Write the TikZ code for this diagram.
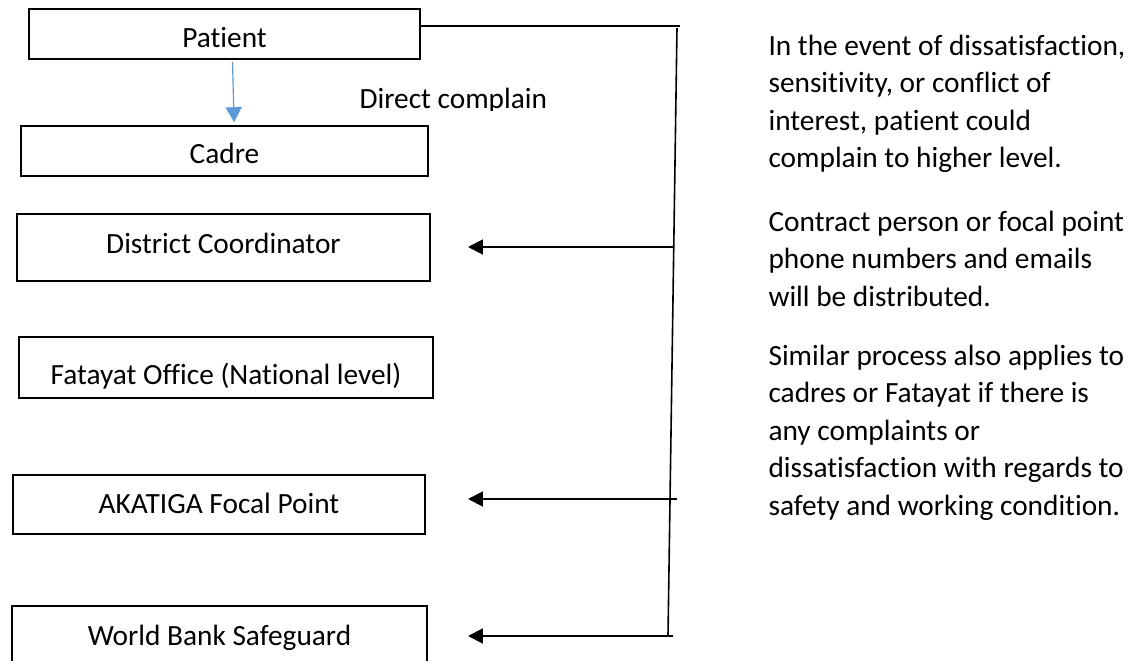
\documentclass[tikz,border=0pt]{standalone}
\usepackage{fontspec}
\setmainfont{Carlito}[Ligatures=NoCommon]
\usetikzlibrary{arrows.meta}
\begin{document}
\begin{tikzpicture}[x=0.375pt,y=-0.375pt,
  lvlbox/.style={draw=black, line width=0.6pt, inner sep=0pt, anchor=base,
    font=\fontsize{11}{13.2}\selectfont},
  blkarr/.style={-{Triangle[length=5.6pt,width=5.6pt]}, line width=0.75pt, draw=black},
  bluearr/.style={-{Triangle[length=5.6pt,width=6pt]}, line width=0.45pt, draw=arrblue},
  linkline/.style={line width=0.6pt, draw=black},
  note/.style={inner sep=0pt, anchor=base west, font=\fontsize{11}{14.1}\selectfont}
]
\definecolor{arrblue}{HTML}{5B9BD5}
\clip (0,0) rectangle (1130,661);
\fill[white] (0,0) rectangle (1130,661);

% level boxes
\node[lvlbox, minimum width=146.6pt, text height=14.25pt, text depth=4.5pt] (patient) at (224.5,47) {Patient};
\node[lvlbox, minimum width=152.6pt, text height=13.9pt, text depth=4.9pt] (cadre) at (224.5,163) {Cadre};
\node[lvlbox, minimum width=154.9pt, text height=14.6pt, text depth=10.5pt] (district) at (223.5,253) {District Coordinator};
\node[lvlbox, minimum width=155.25pt, text height=17.6pt, text depth=5.25pt] (fatayat) at (226,384) {Fatayat Office (National level)};
\node[lvlbox, minimum width=154.5pt, text height=14.25pt, text depth=7.9pt] (akatiga) at (219,513) {AKATIGA Focal Point};
\node[lvlbox, minimum width=155.6pt, text height=14.6pt, text depth=16.9pt] (worldbank) at (219.5,645) {World Bank Safeguard};

% direct complaint arrow and label
\draw[bluearr] ([xshift=3.0pt,yshift=-0.75pt]patient.south) -- ([xshift=3.6pt,yshift=1.1pt]cadre.north);
\begin{scope}
  \clip (340,70) rectangle (570,110.5);
  \node[note] (direct) at (359,108) {Direct complain};
\end{scope}

% escalation line
\coordinate (corner) at (680,26);
\coordinate (vtop) at (677,28);
\coordinate (vbot) at (668,636);
\draw[linkline] (patient.east |- corner) -- (corner);
\draw[linkline] (vtop) -- (vbot);

\coordinate (s1) at (674,247);
\coordinate (t1) at (468,247);
\coordinate (s2) at (677,499);
\coordinate (t2) at (468,499);
\coordinate (s3) at (673,636);
\coordinate (t3) at (468,636);
\draw[blkarr] (s1) -- (t1);
\draw[blkarr] (s2) -- (t2);
\draw[blkarr] (s3) -- (t3);

% notes
\node[note] (n1) at (768,55) {\parbox[t]{160pt}{\raggedright In the event of dissatisfaction,\\ sensitivity, or conflict of\\ interest, patient could\\ complain to higher level.}};
\node[note] (n2) at (768,231) {\parbox[t]{160pt}{\raggedright Contract person or focal point\\ phone numbers and emails\\ will be distributed.}};
\node[note] (n3) at (768,365) {\parbox[t]{160pt}{\raggedright Similar process also applies to\\ cadres or Fatayat if there is\\ any complaints or\\ dissatisfaction with regards to\\ safety and working condition.}};
\end{tikzpicture}
\end{document}
